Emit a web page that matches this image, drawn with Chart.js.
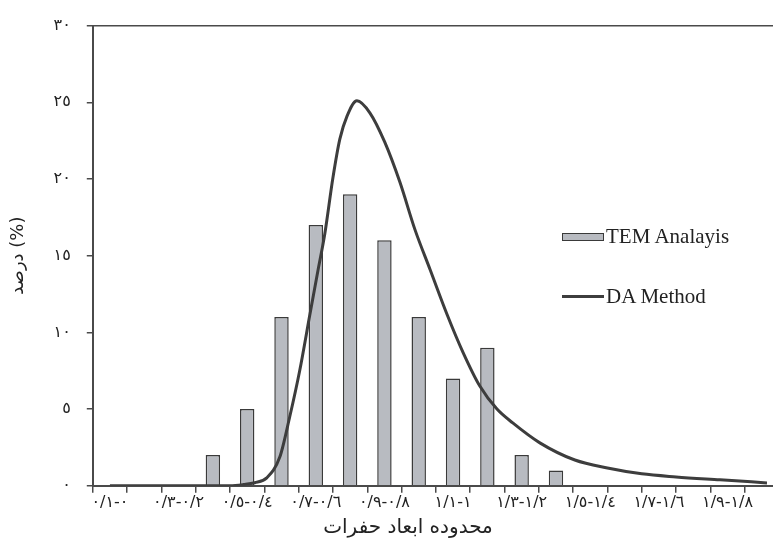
<!DOCTYPE html>
<html>
<head>
<meta charset="utf-8">
<script src="https://cdn.jsdelivr.net/npm/chart.js@4.4.1/dist/chart.umd.min.js"></script>
<style>
  html, body { margin: 0; padding: 0; background: #fff; overflow: hidden; }
  #wrap { position: relative; width: 773px; height: 545px; overflow: hidden; }
  #chart { position: absolute; left: 0; top: 0; }
  .legend { position: absolute; left: 562px; font-family: "Liberation Serif", serif; font-size: 21px; color: #222; display: flex; align-items: center; }
  .sw-bar { width: 40px; height: 6px; background: #b8bbc1; border: 1.5px solid #3a3a3a; margin-right: 2px; }
  .sw-line { width: 42px; height: 3px; background: #3d3d3d; margin-right: 2px; }
  #xtitle { position: absolute; left: 258px; width: 300px; top: 514px; text-align: center; font-family: "DejaVu Sans", sans-serif; font-size: 20px; color: #222; }
</style>
</head>
<body>
<div id="wrap">
  <canvas id="chart" width="800" height="545"></canvas>
  <div class="legend" style="top:224px"><span class="sw-bar"></span>TEM Analayis</div>
  <div class="legend" style="top:284px"><span class="sw-line"></span>DA Method</div>
  <div id="xtitle" dir="rtl">محدوده ابعاد حفرات</div>
</div>
<script>
// Size ranges (Persian digits, "/" is the decimal mark)
const categories = [
  "٠-٠/١", "٠/١-٠/٢", "٠/٢-٠/٣", "٠/٣-٠/٤", "٠/٤-٠/٥",
  "٠/٥-٠/٦", "٠/٦-٠/٧", "٠/٧-٠/٨", "٠/٨-٠/٩", "٠/٩-١",
  "١-١/١", "١/١-١/٢", "١/٢-١/٣", "١/٣-١/٤", "١/٤-١/٥",
  "١/٥-١/٦", "١/٦-١/٧", "١/٧-١/٨", "١/٨-١/٩", "١/٩-٢"
];

// TEM Analayis (bars), percent per range
const temValues = [0, 0, 0, 2, 5, 11, 17, 19, 16, 11, 7, 9, 2, 1, 0, 0, 0, 0, 0, 0];

// DA Method (curve), size vs percent
const daSizes  = [0.05, 0.4, 0.44, 0.472, 0.507, 0.545, 0.574, 0.603, 0.633, 0.656, 0.676, 0.7, 0.72, 0.741, 0.77, 0.808, 0.851, 0.895, 0.939, 0.983, 1.032, 1.079, 1.128, 1.178, 1.224, 1.303, 1.405, 1.5, 1.6, 1.7, 1.828, 1.965];
const daValues = [0, 0, 0.08, 0.2, 0.52, 1.87, 4.5, 7.5, 11.2, 14.0, 16.4, 20.1, 22.6, 24.1, 25.1, 24.3, 22.4, 19.8, 16.7, 14.1, 11.2, 8.7, 6.5, 5.0, 4.1, 2.8, 1.68, 1.16, 0.78, 0.58, 0.39, 0.19];

const yTicks = [0, 5, 10, 15, 20, 25, 30];

function toArabicDigits(n) {
    return String(n).replace(/[0-9]/g, d => "٠١٢٣٤٥٦٧٨٩"[d]);
}

const axisColor = "#4a4a4a";
const textColor = "#222";

const ctx = document.getElementById("chart").getContext("2d");
new Chart(ctx, {
    type: "bar",
    data: {
        labels: categories,
        datasets: [
            {
                type: "line",
                label: "DA Method",
                data: daSizes.map((s, i) => ({ x: s, y: daValues[i] })),
                xAxisID: "xl",
                borderColor: "#3d3d3d",
                borderWidth: 3,
                pointRadius: 0,
                cubicInterpolationMode: "monotone",
                fill: false
            },
            {
                label: "TEM Analayis",
                data: temValues,
                xAxisID: "x",
                grouped: false,
                backgroundColor: "#b8bbc1",
                borderColor: "#3a3a3a",
                borderWidth: 1.5,
                barPercentage: 0.42,
                categoryPercentage: 1
            }
        ]
    },
    options: {
        responsive: false,
        animation: false,
        devicePixelRatio: 1,
        layout: { padding: { top: 14, right: 21, bottom: 33, left: 8 } },
        plugins: { legend: { display: false }, tooltip: { enabled: false } },
        scales: {
            x: {
                type: "category",
                offset: true,
                grid: { display: true, offset: true, drawOnChartArea: false, color: axisColor, tickLength: 7, lineWidth: 1.5 },
                border: { color: axisColor, width: 2 },
                ticks: {
                    autoSkip: false,
                    maxRotation: 0,
                    padding: 0,
                    color: textColor,
                    font: { family: "DejaVu Sans", size: 16 },
                    callback: (v, i) => (i % 2 === 0 ? categories[i] : "")
                }
            },
            // hidden size axis for the curve, same span as the 20 categories
            xl: { type: "linear", min: 0, max: 2, offset: false, display: false },
            y: {
                min: 0,
                max: 30,
                afterBuildTicks: axis => { axis.ticks = yTicks.map(v => ({ value: v })); },
                grid: {
                    drawOnChartArea: true,
                    color: c => (c.tick && c.tick.value === 30 ? axisColor : "rgba(0,0,0,0)"),
                    tickColor: axisColor,
                    tickLength: 6,
                    lineWidth: 1.5
                },
                border: { color: axisColor, width: 2 },
                ticks: {
                    padding: 16,
                    color: textColor,
                    font: { family: "DejaVu Sans", size: 16 },
                    callback: v => toArabicDigits(v)
                },
                title: {
                    display: true,
                    text: "درصد (%)",
                    color: textColor,
                    font: { family: "DejaVu Sans", size: 18 },
                    padding: { top: 0, bottom: 8 }
                }
            }
        }
    }
});
</script>
</body>
</html>
